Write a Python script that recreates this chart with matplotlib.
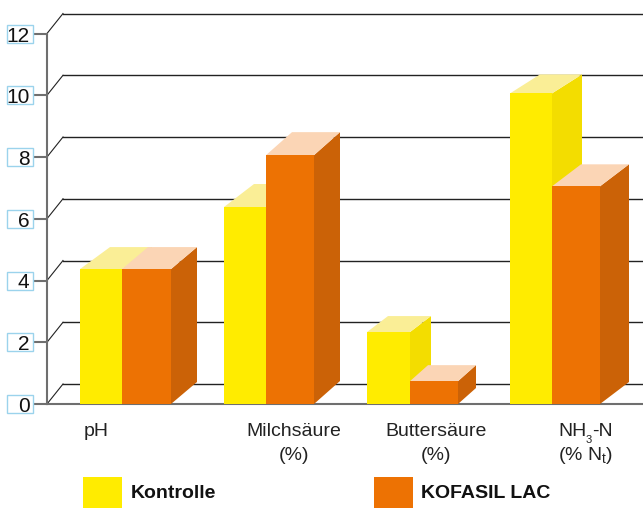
import matplotlib
matplotlib.use('Agg')
import matplotlib.pyplot as plt

plt.rcParams['font.family'] = ['Liberation Sans', 'DejaVu Sans']
plt.rcParams['mathtext.fontset'] = 'custom'
plt.rcParams['mathtext.rm'] = 'Liberation Sans'
plt.rcParams['mathtext.it'] = 'Liberation Sans'
plt.rcParams['mathtext.default'] = 'regular'

# Data
labels_first = ['pH', 'Milchsäure', 'Buttersäure']
labels_second = ['', '(%)', '(%)', '(% N$_t$)']
kontrolle = [4.37, 6.38, 2.33, 10.06]
kofasil = [4.37, 8.06, 0.74, 7.05]
y_ticks = [0, 2, 4, 6, 8, 10, 12]
series_names = ['Kontrolle', 'KOFASIL LAC']

# Layout, all in pixels of the picture
W, H = 643, 508
Y0_PX, UNIT_PX = 404, 30.875
yellow_x = [80, 224, 367, 510]
orange_x = [122, 266, 410, 552]
yellow_w = [42, 42, 43, 42]
orange_w = [49, 48, 48, 48]
yellow_depth = [(30, 22), (30, 23), (21, 16), (30, 19)]
orange_depth = [(26, 22), (26, 23), (18, 16), (29, 22)]
label_x = [96, 294, 436, 586]

YELLOW = ('#ffec00', '#f3dd00', '#faee96')
ORANGE = ('#ed7203', '#cb6207', '#fbd5b5')
GRID = '#222222'
AXIS = '#6f6f6f'


def px(y_pixels):
    # height in pixels -> value units
    return y_pixels / UNIT_PX


def ypos(y_pixels):
    # pixel row of the picture -> value
    return px(Y0_PX - y_pixels)


def draw_bar(ax, x, w, value, depth, colors):
    dx, dy = depth
    dv = px(dy)
    front, side, top = colors
    ax.fill([x, x + w, x + w, x], [0, 0, value, value], color=front, lw=0, zorder=3)
    ax.fill([x + w, x + w + dx, x + w + dx, x + w], [0, dv, value + dv, value],
            color=side, lw=0, zorder=2.5)
    ax.fill([x, x + w, x + w + dx, x + dx], [value, value, value + dv, value + dv],
            color=top, lw=0, zorder=2.5)


fig = plt.figure(figsize=(W / 100, H / 100), dpi=100)
ax = fig.add_axes([0, 0, 1, 1])
ax.set_xlim(0, W)
ax.set_ylim(ypos(H), ypos(0))
ax.axis('off')

# grid with the slanted part at the wall
for t in y_ticks:
    back = t + px(20)
    ax.plot([47, 63], [t, back], color=GRID, lw=0.8, zorder=1)
    ax.plot([63, W], [back, back], color=GRID, lw=1.0, zorder=1)
    ax.plot([33, 47], [t, t], color=AXIS, lw=1.5, zorder=1.5)
    ax.fill([7, 33, 33, 7], [t - px(9), t - px(9), t + px(9), t + px(9)],
            facecolor='white', edgecolor='#9bd3ec', lw=1.0, zorder=4)
    ax.text(29.5, t - px(0.5), str(t), ha='right', va='center_baseline', fontsize=15,
            color='#111111', zorder=5)

ax.plot([47, 47], [0, 12], color=AXIS, lw=1.5, zorder=1.5)
ax.plot([47, W], [0, 0], color=AXIS, lw=1.5, zorder=1.5)

for i in range(len(kontrolle)):
    draw_bar(ax, yellow_x[i], yellow_w[i], kontrolle[i], yellow_depth[i], YELLOW)
    draw_bar(ax, orange_x[i], orange_w[i], kofasil[i], orange_depth[i], ORANGE)
    ax.text(label_x[i], ypos(456), labels_second[i], ha='center', va='center',
            fontsize=14, color='#222222')

for i in range(len(labels_first)):
    ax.text(label_x[i], ypos(431), labels_first[i], ha='center', va='center',
            fontsize=14, color='#222222')

# NH3-N is set by hand, the subscript sits very small and low
ax.text(558, ypos(436), 'NH', ha='left', va='baseline', fontsize=14, color='#222222')
ax.text(586, ypos(443), '3', ha='left', va='baseline', fontsize=8, color='#222222')
ax.text(592, ypos(436), '-N', ha='left', va='baseline', fontsize=14, color='#222222')

# legend
ax.fill([83, 122, 122, 83], [ypos(508), ypos(508), ypos(477), ypos(477)], color=YELLOW[0], lw=0)
ax.fill([374, 413, 413, 374], [ypos(508), ypos(508), ypos(477), ypos(477)], color=ORANGE[0], lw=0)
ax.text(131, ypos(494), series_names[0], va='center', fontsize=14, fontweight='bold', color='#111111')
ax.text(421, ypos(494), series_names[1], va='center', fontsize=14, fontweight='bold', color='#111111')

fig.savefig('out.png', dpi=100)
